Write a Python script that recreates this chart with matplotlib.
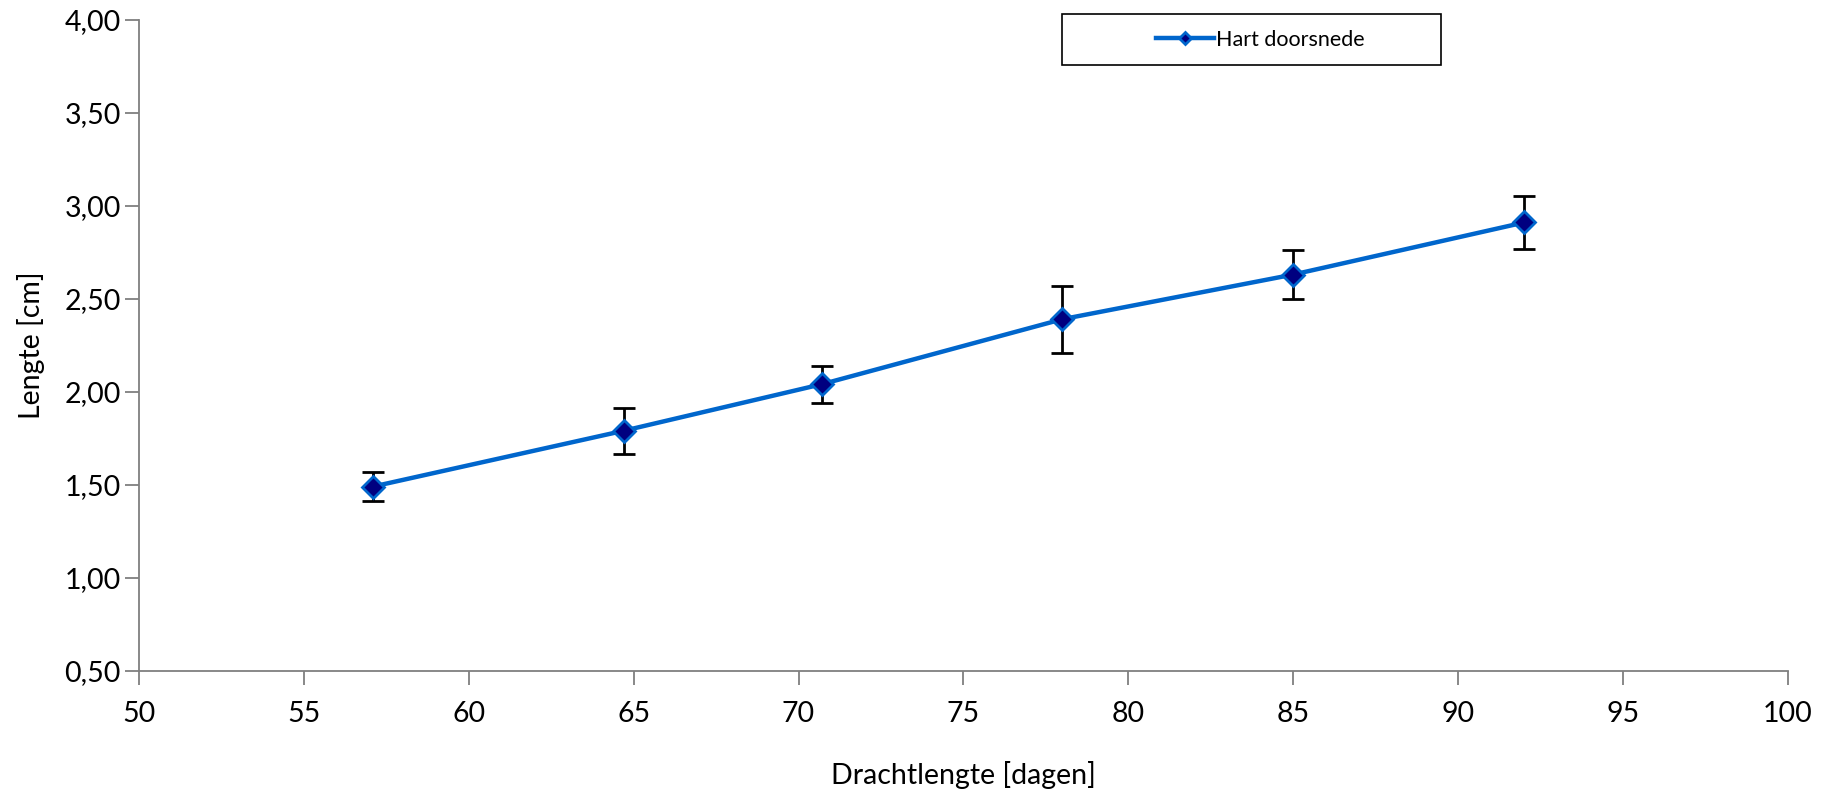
import matplotlib.pyplot as plt
from matplotlib.patches import Rectangle
from matplotlib.ticker import FuncFormatter, MultipleLocator

plt.rcParams["font.family"] = ["Lato", "DejaVu Sans"]

# gestational age [days] vs heart diameter [cm], mean +/- sd
days = [57.1, 64.7, 70.7, 78.0, 85.0, 92.0]
diameter = [1.49, 1.79, 2.04, 2.39, 2.63, 2.91]
sd = [0.08, 0.125, 0.10, 0.18, 0.13, 0.145]

W, H = 1829, 797
fig = plt.figure(figsize=(W / 100, H / 100), dpi=100)
ax = fig.add_axes([0.0759, 0.1585, 0.9017, 0.8167])

ax.errorbar(days, diameter, yerr=sd, fmt="none", ecolor="black",
            elinewidth=2, capsize=8, capthick=2, zorder=2)
ax.plot(days, diameter, color="#0066CC", linewidth=3.2, marker="D",
        markersize=11, markerfacecolor="#000080", markeredgecolor="#0066CC",
        markeredgewidth=2, label="Hart doorsnede", zorder=3)

ax.set_xlim(50, 100)
ax.set_ylim(0.5, 4.0)
ax.xaxis.set_major_locator(MultipleLocator(5))
ax.yaxis.set_major_locator(MultipleLocator(0.5))
ax.yaxis.set_major_formatter(FuncFormatter(lambda v, _: f"{v:.2f}".replace(".", ",")))

for side in ("top", "right"):
    ax.spines[side].set_visible(False)
for side in ("left", "bottom"):
    ax.spines[side].set_color("#7f7f7f")
    ax.spines[side].set_linewidth(1.3)
ax.tick_params(direction="out", length=10, width=1.3, color="#7f7f7f",
               labelsize=20.5)
ax.tick_params(axis="y", pad=3)
ax.tick_params(axis="x", pad=12)

ax.set_xlabel("Drachtlengte [dagen]", fontsize=20.5, labelpad=24)
ax.set_ylabel("Lengte [cm]", fontsize=20.5, labelpad=14)

# legend box drawn by hand so the entry sits centred inside it
bx, by, bw, bh = 1062 / W, 1 - 65 / H, 379 / W, 51 / H
fig.patches.append(Rectangle((bx, by), bw, bh, transform=fig.transFigure,
                             facecolor="white", edgecolor="black", linewidth=1.2))
fig.legend(loc="center", bbox_to_anchor=(bx + bw / 2 + 9 / W, by + bh / 2),
           fontsize=15.5, frameon=False, handlelength=2.7, handletextpad=0.1,
           markerscale=0.6, borderaxespad=0)

fig.savefig("out.png", dpi=100)
plt.close(fig)
